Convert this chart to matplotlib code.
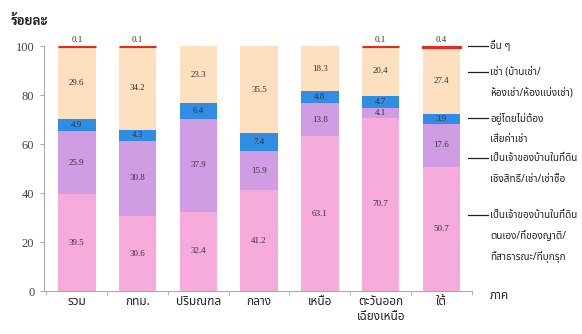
import matplotlib
matplotlib.use("Agg")
import numpy as np
from matplotlib import pyplot as plt

plt.rcParams['font.family'] = ['Noto Sans Thai', 'DejaVu Sans']

# ภาค
regions = ['รวม', 'กทม.', 'ปริมณฑล', 'กลาง', 'เหนือ', 'ตะวันออก\nเฉียงเหนือ', 'ใต้']

# ร้อยละ แยกตามลักษณะการครอบครองที่อยู่อาศัย (จากล่างขึ้นบน)
own_land = [39.5, 30.6, 32.4, 41.2, 63.1, 70.7, 50.7]
own_rented_land = [25.9, 30.8, 37.9, 15.9, 13.8, 4.1, 17.6]
rent_free = [4.9, 4.3, 6.4, 7.4, 4.8, 4.7, 3.9]
rent = [29.6, 34.2, 23.3, 35.5, 18.3, 20.4, 27.4]
other = [0.1, 0.1, 0.0, 0.0, 0.0, 0.1, 0.4]

legend_labels = [
    'เป็นเจ้าของบ้านในที่ดิน\nตนเอง/ที่ของญาติ/\nที่สาธารณะ/ที่บุกรุก',
    'เป็นเจ้าของบ้านในที่ดิน\nเชิงสิทธิ์/เช่า/เช่าซื้อ',
    'อยู่โดยไม่ต้อง\nเสียค่าเช่า',
    'เช่า (บ้านเช่า/\nห้องเช่า/ห้องแบ่งเช่า)',
    'อื่น ๆ',
]
# ระดับของเส้นชี้คำอธิบาย (ร้อยละ)
legend_y = [31.0, 54.3, 70.6, 89.4, 100.0]
colors = ['#f6abdb', '#d09de4', '#2f8de4', '#fce0bf', '#e8271d']

series = [own_land, own_rented_land, rent_free, rent, other]

fig = plt.figure(figsize=(5.82, 3.34), dpi=100)
ax = fig.add_axes([0.0756, 0.1287, 0.735, 0.7333])

x = np.arange(len(regions))
width = 0.62
bottom = np.zeros(len(regions))
num_font = dict(family='Liberation Serif', fontsize=6.5, color='#333333')

for i, (vals, col) in enumerate(zip(series, colors)):
    vals = np.array(vals)
    if i == 4:
        # อื่น ๆ : แถบบางมาก วาดเป็นเส้นแดง
        for xi, v, b in zip(x, vals, bottom):
            if v > 0:
                ax.bar(xi, v, width, bottom=b, color=col, edgecolor=col,
                       linewidth=2.2, zorder=3)
                ax.text(xi, b + v + 2.4, f'{v:.1f}', ha='center', va='center', **num_font)
    else:
        ax.bar(x, vals, width, bottom=bottom, color=col, linewidth=0, zorder=2)
        for xi, v, b in zip(x, vals, bottom):
            ax.text(xi, b + v / 2, f'{v:.1f}', ha='center', va='center', **num_font)
    bottom = bottom + vals

# คำอธิบายด้านขวา
for lab, yy in zip(legend_labels, legend_y):
    ax.plot([6.44, 6.77], [yy, yy], color='#222222', lw=0.9, clip_on=False)
    for j, row in enumerate(lab.split('\n')):
        ax.text(6.80, yy - j * 8.6, row, ha='left', va='center', fontsize=7.2,
                color='#222222', clip_on=False)

ax.set_xlim(-0.54, 6.48)
ax.set_ylim(0, 100)
ax.set_yticks(range(0, 101, 20))
ax.set_yticklabels([str(v) for v in range(0, 101, 20)], family='Liberation Serif',
                   fontsize=9, color='#444444')
ax.set_xticks(x)
ax.set_xticklabels(regions, fontsize=8.5, color='#222222', linespacing=1.2)
ax.tick_params(axis='x', length=0, pad=3)
ax.tick_params(axis='y', length=3, color='#aaaaaa', pad=4)
ax.set_xticks(np.arange(-0.5, 6.6, 1), minor=True)
ax.tick_params(axis='x', which='minor', length=3, color='#aaaaaa')

for s in ['top', 'right']:
    ax.spines[s].set_visible(False)
ax.spines['left'].set_color('#aaaaaa')
ax.spines['bottom'].set_color('#aaaaaa')

fig.text(0.018, 0.925, 'ร้อยละ', fontsize=9.5, fontweight='bold', color='#222222',
         family=['Sarabun', 'Noto Sans Thai'])
ax.text(6.80, -2, 'ภาค', fontsize=8.5, color='#222222', ha='left', va='center',
        clip_on=False)

fig.savefig('out.png', dpi=100)
